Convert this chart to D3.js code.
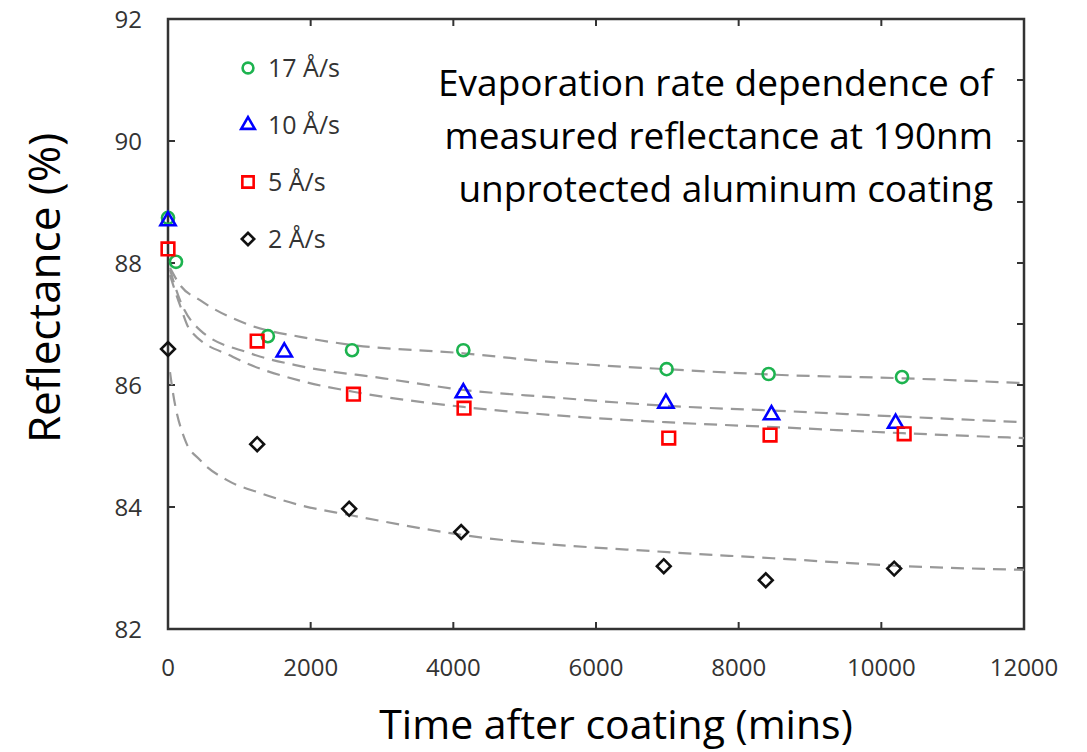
<!DOCTYPE html>
<html>
<head>
<meta charset="utf-8">
<script src="https://cdn.jsdelivr.net/npm/d3@7"></script>
<style>
  body { margin: 0; background: #fff; }
  #chart { width: 1087px; height: 752px; }
  text { font-family: "Open Sans", sans-serif; fill: #333; }
</style>
</head>
<body>
<div id="chart"></div>
<script>
// measured points, time (mins) / reflectance (%)
var rates = ["17 Å/s", "10 Å/s", "5 Å/s", "2 Å/s"];

var t17 = [0, 112, 1400, 2580, 4140, 6990, 8420, 10290];
var r17 = [88.74, 88.02, 86.80, 86.57, 86.57, 86.26, 86.18, 86.13];
var t10 = [0, 1630, 4140, 6980, 8460, 10200];
var r10 = [88.69, 86.54, 85.87, 85.70, 85.51, 85.37];
var t5 = [0, 1250, 2600, 4150, 7020, 8440, 10320];
var r5 = [88.23, 86.72, 85.85, 85.62, 85.13, 85.18, 85.20];
var t2 = [0, 1250, 2540, 4110, 6950, 8380, 10180];
var r2 = [86.59, 85.03, 83.97, 83.59, 83.03, 82.80, 82.99];

// dashed fit curves
var fitT17 = [28, 168, 449, 1151, 1853, 2554, 4140, 5361, 6975, 8688, 10302, 12000];
var fitR17 = [87.92, 87.64, 87.39, 86.98, 86.79, 86.66, 86.52, 86.38, 86.26, 86.16, 86.11, 86.03];
var fitT10 = [28, 168, 449, 1151, 1853, 3018, 4140, 5361, 6975, 8688, 10302, 12000];
var fitR10 = [87.89, 87.39, 86.90, 86.52, 86.31, 86.11, 85.92, 85.80, 85.66, 85.57, 85.48, 85.39];
var fitT5 = [28, 168, 309, 912, 1853, 2596, 4140, 5361, 6975, 8688, 10302, 12000];
var fitR5 = [87.80, 87.31, 86.90, 86.46, 86.07, 85.89, 85.64, 85.51, 85.39, 85.30, 85.21, 85.13];
var fitT2 = [28, 70, 239, 449, 828, 1291, 1853, 2540, 4140, 7004, 8477, 10330, 12000];
var fitR2 = [86.21, 85.87, 85.10, 84.77, 84.44, 84.23, 84.03, 83.87, 83.54, 83.26, 83.16, 83.03, 82.97];

var xTicks = [0, 2000, 4000, 6000, 8000, 10000, 12000];
var yTicks = [82, 84, 86, 88, 90, 92];
var yMinor = [82, 83, 84, 85, 86, 87, 88, 89, 90, 91, 92];

var width = 1087, height = 752;
var margin = {top: 19, right: 63, bottom: 123, left: 168};

var svg = d3.select("#chart").append("svg")
  .attr("width", width)
  .attr("height", height);

var x = d3.scaleLinear().domain([0, 12000]).range([margin.left, width - margin.right]);
var y = d3.scaleLinear().domain([82, 92]).range([height - margin.bottom, margin.top]);

var axisColor = "#333";

// ticks (all pointing inward)
var g = svg.append("g");
g.selectAll(".xb").data(xTicks).enter().append("line")
  .attr("x1", d => x(d)).attr("x2", d => x(d))
  .attr("y1", y(82)).attr("y2", y(82) - 7)
  .attr("stroke", axisColor).attr("stroke-width", 2);
g.selectAll(".xt").data(xTicks).enter().append("line")
  .attr("x1", d => x(d)).attr("x2", d => x(d))
  .attr("y1", y(92)).attr("y2", y(92) + 7)
  .attr("stroke", axisColor).attr("stroke-width", 2);
g.selectAll(".yl").data(yTicks).enter().append("line")
  .attr("x1", x(0)).attr("x2", x(0) + 7)
  .attr("y1", d => y(d)).attr("y2", d => y(d))
  .attr("stroke", axisColor).attr("stroke-width", 2);
g.selectAll(".yr").data(yMinor).enter().append("line")
  .attr("x1", x(12000)).attr("x2", x(12000) - 7)
  .attr("y1", d => y(d)).attr("y2", d => y(d))
  .attr("stroke", axisColor).attr("stroke-width", 2);

// tick labels
svg.selectAll(".xlab").data(xTicks).enter().append("text")
  .attr("x", d => x(d)).attr("y", y(82) + 47)
  .attr("text-anchor", "middle")
  .style("font-size", "24px")
  .text(d => d);
svg.selectAll(".ylab").data(yTicks).enter().append("text")
  .attr("x", x(0) - 26).attr("y", d => y(d) + 9)
  .attr("text-anchor", "end")
  .style("font-size", "24px")
  .text(d => d);

// frame
svg.append("rect")
  .attr("x", x(0)).attr("y", y(92))
  .attr("width", x(12000) - x(0)).attr("height", y(82) - y(92))
  .attr("fill", "none").attr("stroke", axisColor).attr("stroke-width", 2.5);

// axis titles
svg.append("text")
  .attr("x", 616).attr("y", 739)
  .attr("text-anchor", "middle")
  .style("font-size", "41px").style("fill", "#000")
  .text("Time after coating (mins)");
svg.append("text")
  .attr("transform", "rotate(-90)")
  .attr("x", -288).attr("y", 60)
  .attr("text-anchor", "middle")
  .style("font-size", "44px").style("fill", "#000")
  .text("Reflectance (%)");

// annotation
var note = ["Evaporation rate dependence of", "measured reflectance at 190nm", "unprotected aluminum coating"];
svg.selectAll(".note").data(note).enter().append("text")
  .attr("x", 993).attr("y", (d, i) => 96 + i * 53)
  .attr("text-anchor", "end")
  .style("font-size", "37px").style("fill", "#000")
  .text(d => d);

// fit lines
var fits = [[fitT17, fitR17], [fitT10, fitR10], [fitT5, fitR5], [fitT2, fitR2]];
var line = d3.line()
  .x(d => x(d[0])).y(d => y(d[1]))
  .curve(d3.curveMonotoneX);
svg.selectAll(".fit").data(fits).enter().append("path")
  .attr("d", f => line(d3.zip(f[0], f[1])))
  .attr("fill", "none")
  .attr("stroke", "#999")
  .attr("stroke-width", 2.2)
  .attr("stroke-dasharray", "13,8");

// markers (diamond = square turned 45deg)
var series = [
  {t: t17, r: r17, color: "#1db34f", sym: d3.symbolCircle, size: 115, rot: 0},
  {t: t10, r: r10, color: "#0000ff", sym: d3.symbolTriangle, size: 100, rot: 0},
  {t: t5, r: r5, color: "#ff0000", sym: d3.symbolSquare, size: 160, rot: 0},
  {t: t2, r: r2, color: "#111", sym: d3.symbolSquare, size: 95, rot: 45}
];

series.forEach(function(s) {
  svg.append("g").selectAll("path")
    .data(d3.zip(s.t, s.r))
    .enter().append("path")
    .attr("transform", d => `translate(${x(d[0])},${y(d[1])}) rotate(${s.rot})`)
    .attr("d", d3.symbol().type(s.sym).size(s.size))
    .attr("fill", "none")
    .attr("stroke", s.color)
    .attr("stroke-width", 2.6);
});

// legend
var legend = svg.append("g");
series.forEach(function(s, i) {
  var ly = 68 + i * 57;
  legend.append("path")
    .attr("transform", `translate(248,${ly}) rotate(${s.rot})`)
    .attr("d", d3.symbol().type(s.sym).size(s.size * 0.8))
    .attr("fill", "none")
    .attr("stroke", s.color)
    .attr("stroke-width", 2.6);
  legend.append("text")
    .attr("x", 268).attr("y", ly + 9)
    .style("font-size", "25px")
    .text(rates[i]);
});
</script>
</body>
</html>
